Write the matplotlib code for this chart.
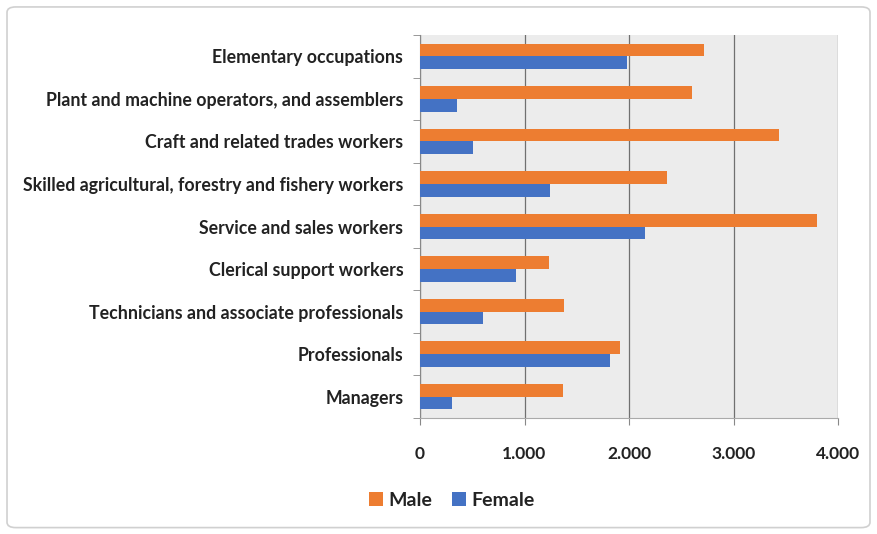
import matplotlib
matplotlib.use("Agg")
import matplotlib.pyplot as plt
import numpy as np
from matplotlib.patches import FancyBboxPatch

categories = [
    "Managers",
    "Professionals",
    "Technicians and associate professionals",
    "Clerical support workers",
    "Service and sales workers",
    "Skilled agricultural, forestry and fishery workers",
    "Craft and related trades workers",
    "Plant and machine operators, and assemblers",
    "Elementary occupations",
]
male = [1370, 1910, 1380, 1230, 3800, 2360, 3440, 2600, 2720]
female = [310, 1820, 600, 920, 2150, 1240, 510, 350, 1980]
xticks = [0, 1000, 2000, 3000, 4000]
xticklabels = ["0", "1.000", "2.000", "3.000", "4.000"]

plt.rcParams['font.family'] = ['Lato', 'DejaVu Sans']

fig = plt.figure(figsize=(8.77, 5.34), dpi=100)
fig.patch.set_facecolor("white")
border = FancyBboxPatch((0.008, 0.012), 0.984, 0.975, boxstyle="round,pad=0,rounding_size=0.01",
                        transform=fig.transFigure, facecolor="none", edgecolor="#d0d0d0", lw=1.2,
                        zorder=-1)
fig.patches.append(border)

ax = fig.add_axes([420/877, 1-418/534, 418/877, 383/534])
ax.set_facecolor("#ececec")

y = np.arange(len(categories))
h = 0.30
ax.barh(y + h/2, male, height=h, color="#ED7D31", label="Male", zorder=3)
ax.barh(y - h/2, female, height=h, color="#4472C4", label="Female", zorder=3)

ax.set_xlim(0, 4000)
ax.set_ylim(-0.5, len(categories) - 0.5)
ax.set_xticks(xticks)
ax.set_xticklabels(xticklabels, fontsize=12.5, color="#222222", fontweight="bold")
ax.set_yticks(y)
ax.set_yticklabels(categories, fontsize=12.8, color="#222222", fontweight="bold")
ax.tick_params(axis='y', length=0, pad=12)
ax.tick_params(axis='x', length=5, color="#888888", pad=15)
ax.set_yticks(np.arange(-0.5, len(categories), 1), minor=True)
ax.tick_params(axis='y', which='minor', length=5, color="#888888")

ax.grid(axis='x', color="#707070", lw=0.9, zorder=1)
for s in ["top", "right"]:
    ax.spines[s].set_visible(False)
ax.spines["left"].set_color("#888888")
ax.spines["bottom"].set_color("#aaaaaa")

handles, labels = ax.get_legend_handles_labels()
leg = fig.legend(handles, labels, loc="center", bbox_to_anchor=(452/877, 1-500/534), ncol=2,
                 frameon=False, prop={'size': 14, 'weight': 'bold'}, handlelength=0.7, handleheight=0.7,
                 handletextpad=0.3, columnspacing=1.0)
for t in leg.get_texts():
    t.set_color("#222222")

fig.savefig("out.png", dpi=100)
